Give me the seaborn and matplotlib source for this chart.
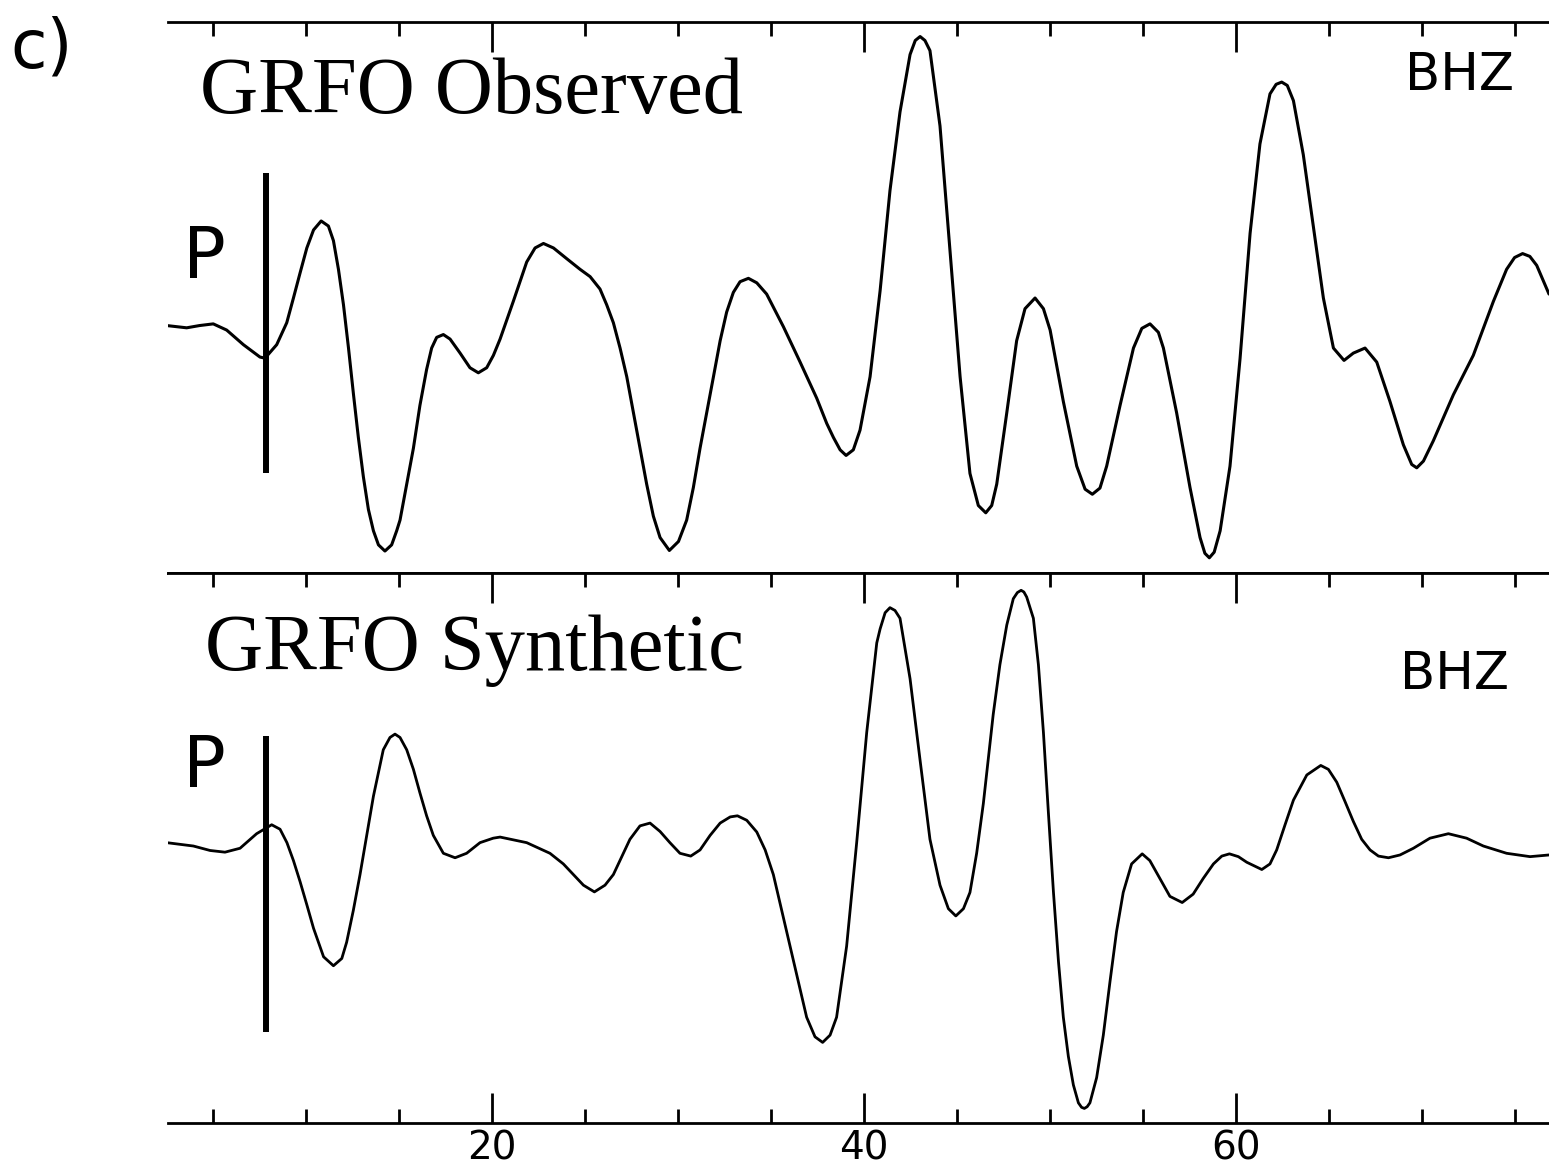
import matplotlib
matplotlib.use("Agg")
import matplotlib.pyplot as plt
from matplotlib.ticker import MultipleLocator, FixedLocator
import numpy as np
import pandas as pd
import seaborn as sns

# time axis (s) and amplitudes
obs_t = [2.54, 3.61, 4.3, 5.04, 5.76, 6.66, 7.55, 7.82, 8.45, 8.99, 9.35, 9.71, 10.07, 10.43,
         10.84, 11.23, 11.50, 11.77, 12.04, 12.31, 12.58, 12.84, 13.11, 13.38, 13.65, 13.92,
         14.27, 14.63, 14.90, 15.08, 15.44, 15.80, 16.15, 16.51, 16.78, 17.05, 17.41, 17.77,
         18.31, 18.84, 19.29, 19.74, 20.10, 20.46, 21.17, 21.89, 22.34, 22.79, 23.33, 24.04,
         24.76, 25.30, 25.83, 26.19, 26.55, 26.91, 27.27, 27.63, 27.99, 28.34, 28.70, 29.06,
         29.56, 30.05, 30.49, 30.85, 31.21, 31.57, 31.93, 32.29, 32.64, 33.00, 33.36, 33.81,
         34.26, 34.79, 35.69, 36.59, 37.48, 38.02, 38.38, 38.74, 39.06, 39.45, 39.81, 40.35,
         40.89, 41.42, 41.96, 42.50, 42.78, 43.04, 43.30, 43.57, 44.11, 44.65, 45.19, 45.72,
         46.17, 46.57, 46.89, 47.16, 47.70, 48.23, 48.68, 49.22, 49.67, 50.03, 50.74, 51.46,
         51.91, 52.30, 52.71, 53.07, 53.79, 54.51, 54.96, 55.40, 55.85, 56.12, 56.83, 57.55,
         58.09, 58.35, 58.59, 58.85, 59.17, 59.70, 60.24, 60.78, 61.31, 61.85, 62.18, 62.48,
         62.78, 63.11, 63.64, 64.18, 64.72, 65.26, 65.83, 66.33, 66.96, 67.59, 68.30, 69.02,
         69.47, 69.74, 70.10, 70.63, 71.71, 72.78, 73.86, 74.57, 75.0, 75.43, 75.82, 76.19,
         76.85]
obs_amp = [-0.1, -0.5, -0.1, 0.2, -0.9, -3.5, -5.7, -5.9, -3.5, 0.4, 4.8, 9.3, 13.7, 16.9,
           18.5, 17.6, 15.0, 9.9, 3.6, -4.1, -12.4, -20.0, -27.0, -32.8, -36.6, -39.1,
           -40.2, -39.1, -36.6, -34.7, -28.3, -21.9, -14.3, -7.9, -4.1, -2.2, -1.7, -2.5,
           -5.0, -7.6, -8.5, -7.6, -5.4, -2.5, 4.2, 11.2, 13.7, 14.5, 13.7, 11.8,
           9.9, 8.6, 6.4, 3.6, 0.4, -4.1, -9.2, -15.6, -21.9, -28.3, -34.0, -37.8,
           -40.1, -38.5, -34.7, -28.9, -21.9, -15.6, -9.2, -2.8, 2.3, 5.8, 7.7, 8.3,
           7.5, 5.5, -0.3, -6.6, -13.0, -17.5, -20.0, -22.2, -23.2, -22.2, -18.7, -9.2,
           6.1, 23.9, 37.9, 48.1, 50.6, 51.3, 50.6, 48.8, 35.4, 13.1, -9.2, -26.4,
           -32.1, -33.4, -32.1, -28.3, -15.6, -2.8, 2.9, 4.8, 2.9, -0.9, -13.6, -25.1,
           -29.2, -30.1, -29.0, -25.1, -14.3, -4.1, -0.6, 0.2, -1.3, -4.1, -15.6, -28.9,
           -37.8, -40.6, -41.4, -40.4, -36.6, -25.1, -6.0, 16.3, 32.2, 41.1, 42.8, 43.2,
           42.6, 39.9, 30.3, 17.5, 4.8, -4.1, -6.3, -5.0, -4.1, -6.6, -13.6, -21.3,
           -24.8, -25.4, -24.2, -20.6, -12.4, -5.4, 4.2, 9.9, 12.0, 12.7, 12.2, 10.6,
           5.5]

syn_t = [2.54, 3.97, 4.87, 5.67, 6.48, 7.37, 8.18, 8.63, 9.0, 9.35, 9.71, 10.07, 10.43, 10.97,
         11.50, 11.95, 12.21, 12.57, 12.93, 13.29, 13.65, 14.18, 14.54, 14.81, 15.08, 15.44,
         15.80, 16.15, 16.51, 16.87, 17.41, 18.04, 18.66, 19.38, 20.09, 20.46, 21.89, 23.14,
         23.86, 24.40, 24.94, 25.53, 26.10, 26.55, 27.00, 27.44, 27.98, 28.52, 29.06, 29.59,
         30.13, 30.71, 31.21, 31.75, 32.29, 32.83, 33.22, 33.72, 34.26, 34.71, 35.15, 35.60,
         36.05, 36.49, 36.94, 37.39, 37.80, 38.20, 38.55, 39.09, 39.63, 40.17, 40.71, 40.89,
         41.16, 41.42, 41.69, 41.96, 42.50, 43.04, 43.57, 44.11, 44.56, 44.96, 45.37, 45.72,
         46.08, 46.44, 46.97, 47.33, 47.70, 48.05, 48.27, 48.47, 48.62, 48.77, 49.13, 49.40,
         49.67, 49.94, 50.21, 50.48, 50.74, 51.01, 51.28, 51.55, 51.72, 51.87, 52.02, 52.17,
         52.53, 52.89, 53.25, 53.60, 53.96, 54.41, 54.98, 55.39, 55.93, 56.47, 57.13, 57.72,
         58.26, 58.81, 59.26, 59.67, 60.15, 60.60, 61.41, 61.85, 62.21, 62.66, 63.11, 63.83,
         64.58, 64.99, 65.44, 65.89, 66.33, 66.78, 67.23, 67.68, 68.22, 68.84, 69.56, 70.45,
         71.44, 72.42, 73.32, 74.57, 75.83, 76.85]
syn_amp = [0.1, -0.5, -1.3, -1.6, -0.9, 1.7, 3.3, 2.5, 0.1, -3.1, -6.9, -11.0, -15.2, -20.3,
           -21.9, -20.6, -17.7, -12.0, -5.6, 1.4, 8.4, 16.7, 18.9, 19.5, 18.9, 16.7,
           13.2, 9.0, 4.9, 1.4, -1.8, -2.6, -1.8, 0.1, 0.9, 1.1, 0.1, -1.8,
           -3.7, -5.6, -7.5, -8.7, -7.5, -5.6, -2.4, 0.7, 3.1, 3.6, 2.1, 0.1,
           -1.8, -2.3, -1.2, 1.4, 3.6, 4.7, 4.9, 4.1, 2.0, -1.2, -5.6, -12.0,
           -18.4, -24.7, -31.1, -34.6, -35.6, -34.3, -31.1, -18.4, 0.1, 19.8, 35.8, 38.3,
           41.2, 42.1, 41.6, 40.2, 29.4, 14.8, 0.7, -7.5, -11.7, -13.0, -11.7, -8.8,
           -1.8, 7.1, 23.0, 31.9, 39.0, 43.7, 44.8, 45.2, 44.9, 44.0, 40.2, 31.9,
           19.8, 5.3, -8.8, -21.2, -31.1, -38.1, -43.2, -46.4, -47.2, -47.4, -47.1, -46.4,
           -41.9, -34.3, -24.7, -15.8, -8.8, -3.7, -1.9, -3.1, -6.3, -9.5, -10.6, -9.1,
           -6.3, -3.7, -2.3, -1.9, -2.4, -3.4, -4.7, -3.7, -1.2, 3.3, 7.7, 12.2,
           13.9, 13.2, 10.9, 7.4, 3.9, 0.7, -1.2, -2.3, -2.6, -2.1, -0.9, 0.9,
           1.7, 0.9, -0.5, -1.8, -2.4, -2.1]

# P arrival pick and the extent of its marker in each panel
p_time = 7.88
p_obs_range = [-26.4, 27.0]
p_syn_range = [-33.8, 19.2]

panel_titles = ["GRFO Observed", "GRFO Synthetic"]
channel = "BHZ"
xlabels = [20, 40, 60]

obs = pd.DataFrame({"t": obs_t, "amp": obs_amp})
syn = pd.DataFrame({"t": syn_t, "amp": syn_amp})

sns.set_style("white")
plt.rcParams["font.family"] = ["DejaVu Sans"]
plt.rcParams["text.color"] = "black"
plt.rcParams["xtick.color"] = "black"
plt.rcParams["xtick.labelcolor"] = "black"

fig = plt.figure(figsize=(15.49, 11.66), dpi=100)
ax1 = fig.add_axes([0.1085, 0.5086, 0.8915, 0.4726])
ax2 = fig.add_axes([0.1085, 0.0369, 0.8915, 0.4717])

sns.lineplot(data=obs, x="t", y="amp", ax=ax1, color="black", lw=2.2,
             sort=False, estimator=None, solid_joinstyle="round", solid_capstyle="round")
sns.lineplot(data=syn, x="t", y="amp", ax=ax2, color="black", lw=2.0,
             sort=False, estimator=None, solid_joinstyle="round", solid_capstyle="round")

ax1.vlines(p_time, p_obs_range[0], p_obs_range[1], color="black", lw=4.3)
ax2.vlines(p_time, p_syn_range[0], p_syn_range[1], color="black", lw=4.3)

ax1.set_ylim(-44.1, 53.9)
ax2.set_ylim(-50.0, 48.3)

for ax in (ax1, ax2):
    ax.set_xlim(2.61, 76.85)
    ax.set_xlabel("")
    ax.set_ylabel("")
    ax.set_yticks([])
    for side in ("left", "right"):
        ax.spines[side].set_visible(False)
    for side in ("top", "bottom"):
        ax.spines[side].set_linewidth(2.0)
        ax.spines[side].set_color("black")
    ax.xaxis.set_major_locator(FixedLocator(xlabels))
    ax.xaxis.set_minor_locator(MultipleLocator(5))
    ax.tick_params(axis="x", which="major", direction="in", length=21.5, width=2.0, color="black")
    ax.tick_params(axis="x", which="minor", direction="in", length=10, width=2.0, color="black")

# top panel: ticks along the top edge only
ax1.tick_params(axis="x", which="both", top=True, bottom=False, labeltop=False, labelbottom=False)
# bottom panel: ticks on both edges, labels below
ax2.tick_params(axis="x", which="both", top=True, bottom=True, labeltop=False, labelbottom=True)
ax2.tick_params(axis="x", which="major", labelsize=28, pad=5, labelcolor="black")

serif = ["Liberation Serif", "DejaVu Serif"]
ax1.text(4.33, 0.835, panel_titles[0], transform=ax1.get_xaxis_transform(),
         family=serif, fontsize=58, va="baseline", ha="left", color="black")
ax2.text(4.60, 0.824, panel_titles[1], transform=ax2.get_xaxis_transform(),
         family=serif, fontsize=58, va="baseline", ha="left", color="black")

ax1.text(0.975, 0.876, channel, transform=ax1.transAxes, fontsize=37, ha="right",
         va="baseline", color="black")
ax2.text(0.971, 0.789, channel, transform=ax2.transAxes, fontsize=37, ha="right",
         va="baseline", color="black")

ax1.text(3.41, 0.535, "P", transform=ax1.get_xaxis_transform(), fontsize=51, ha="left",
         va="baseline", color="black")
ax2.text(3.41, 0.611, "P", transform=ax2.get_xaxis_transform(), fontsize=51, ha="left",
         va="baseline", color="black")

fig.text(0.0065, 0.9417, "c)", fontsize=48, ha="left", va="baseline", color="black")

fig.savefig("out.png", dpi=100)
